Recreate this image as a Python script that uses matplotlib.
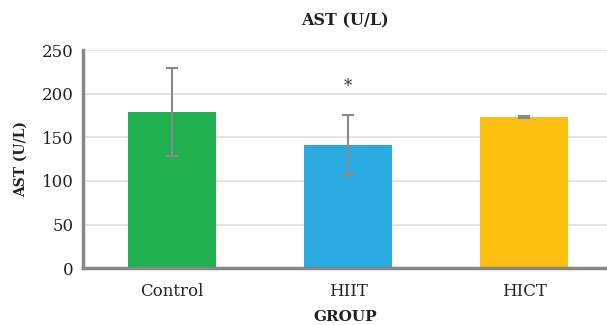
import matplotlib
matplotlib.use("Agg")
import matplotlib.pyplot as plt

groups = ["Control", "HIIT", "HICT"]
means = [179, 141, 173]
errors = [50, 34, 1]
colors = ["#21B04F", "#29ABE2", "#FBBF12"]
yticks = [0, 50, 100, 150, 200, 250]

plt.rcParams["font.family"] = ["DejaVu Serif"]

fig = plt.figure(figsize=(6.07, 3.25), dpi=100)
ax = fig.add_axes([0.137, 0.175, 0.863, 0.671])

x = range(len(groups))
ax.bar(x, means, width=0.5, color=colors, zorder=2,
       yerr=errors, ecolor="#8A8A8A", capsize=4,
       error_kw=dict(elinewidth=1.5, capthick=1.5, zorder=3))

ax.text(1, 208, "*", ha="center", va="center", fontsize=12, color="#333333")

ax.set_xlim(-0.505, 2.47)
ax.set_ylim(0, 250)
ax.set_yticks(yticks)
ax.set_xticks(list(x))
ax.set_xticklabels(groups, fontsize=12, color="#222222")
ax.tick_params(axis="y", labelsize=12, labelcolor="#222222", length=0, pad=7)
ax.tick_params(axis="x", length=0, pad=11)

ax.grid(axis="y", color="#E0E0E0", linewidth=1.2, zorder=0)
for s in ["top", "right"]:
    ax.spines[s].set_visible(False)
ax.spines["left"].set_color("#888888")
ax.spines["left"].set_linewidth(2.5)
ax.spines["bottom"].set_color("#888888")
ax.spines["bottom"].set_linewidth(2.5)

ax.set_ylabel("AST (U/L)", fontsize=10, fontweight="bold", color="#222222", labelpad=10)
ax.set_xlabel("GROUP", fontsize=11, fontweight="bold", color="#222222", labelpad=7)
ax.set_title("AST (U/L)", fontsize=11.5, fontweight="bold", color="#222222", pad=18)

fig.savefig("out.png", dpi=100)
